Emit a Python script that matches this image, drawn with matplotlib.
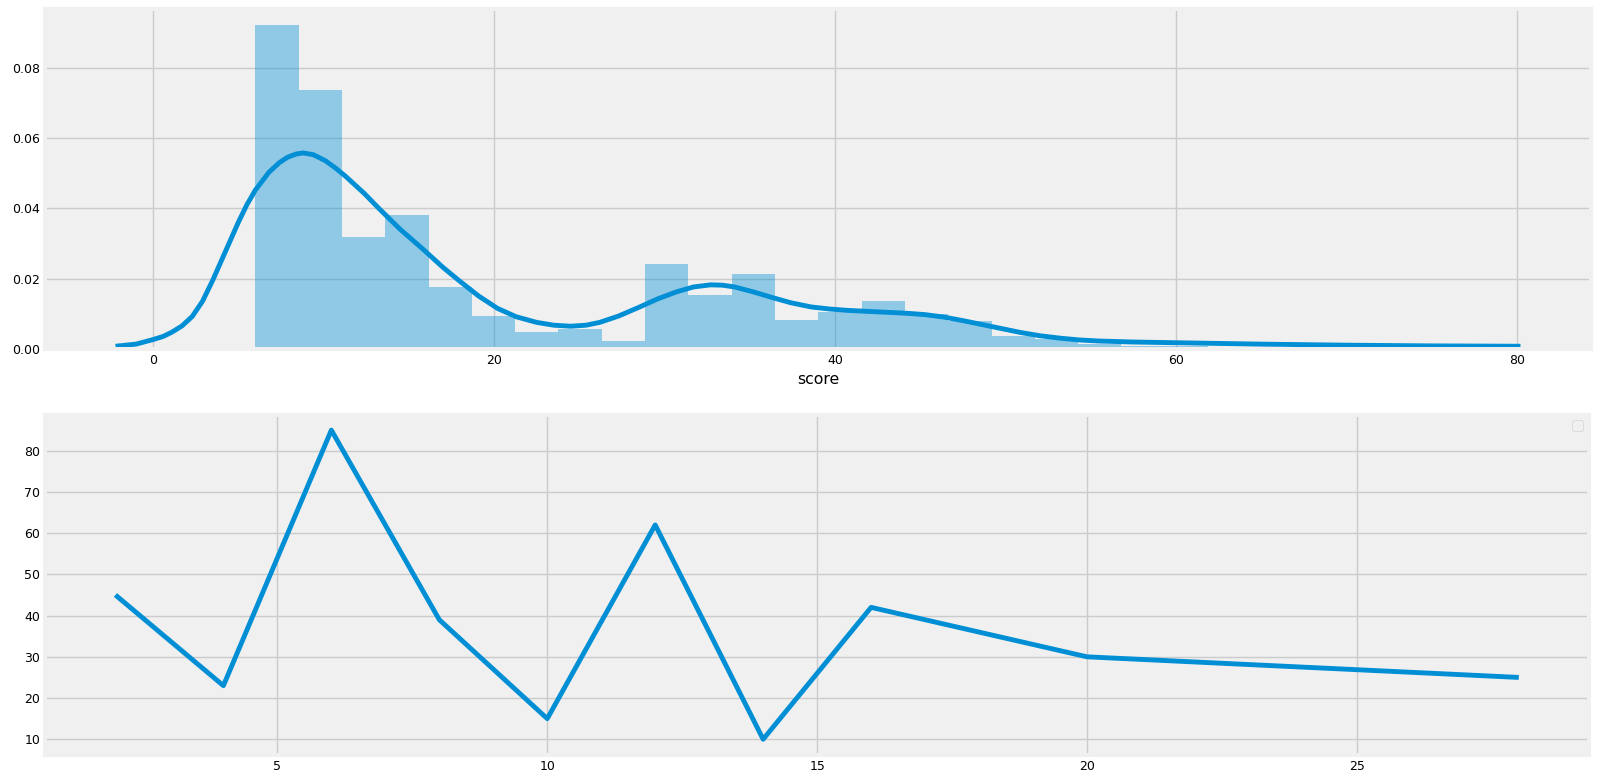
import numpy as np
import matplotlib
matplotlib.use("Agg")
import matplotlib.pyplot as plt

# ---------------- data ----------------
# top panel: histogram of "score" (density) + KDE
bin_edges = [6.0, 8.54, 11.08, 13.62, 16.16, 18.7, 21.24, 23.78, 26.32, 28.86,
             31.4, 33.94, 36.48, 39.02, 41.56, 44.1, 46.64, 49.18, 51.72, 54.26,
             56.8, 59.34, 61.88, 64.42, 66.96, 69.5, 72.04]
bin_density = [0.0923, 0.0736, 0.0319, 0.0382, 0.0175, 0.0093, 0.0049, 0.0057,
               0.0023, 0.0241, 0.0152, 0.0214, 0.0083, 0.0105, 0.0135, 0.0100,
               0.0080, 0.0035, 0.0028, 0.0014, 0.0007, 0.0007, 0.0004, 0.0004,
               0.0000, 0.0004]

kde_x = [-2.2, -1.0, 0.0, 0.6, 1.1, 1.7, 2.3, 2.9, 3.5, 4.0, 4.5, 5.0, 5.5,
         6.0, 6.8, 7.4, 7.9, 8.4, 8.8, 9.4, 10.1, 10.7, 11.3, 12.4, 13.2, 14.5,
         15.8, 17.0, 18.0, 19.1, 20.2, 21.3, 22.5, 23.5, 24.5, 25.4, 26.2, 27.3,
         28.5, 29.6, 30.7, 31.7, 32.7, 33.4, 34.1, 35.2, 36.3, 37.4, 38.6, 39.7,
         40.8, 42.5, 44.2, 45.3, 46.4, 47.5, 48.7, 49.8, 50.9, 52.0, 53.2, 54.3,
         55.4, 57.5, 60.0, 65.0, 70.0, 75.0, 80.2]
kde_y = [0.0007, 0.0013, 0.0026, 0.0035, 0.0047, 0.0065, 0.0092, 0.0135,
         0.0195, 0.0250, 0.0305, 0.0360, 0.0410, 0.0452, 0.0503, 0.0530,
         0.0546, 0.0555, 0.0558, 0.0553, 0.0536, 0.0515, 0.0491, 0.0442,
         0.0402, 0.0340, 0.0285, 0.0232, 0.0192, 0.0150, 0.0115, 0.0091,
         0.0075, 0.0067, 0.0064, 0.0067, 0.0075, 0.0093, 0.0118, 0.0142,
         0.0162, 0.0176, 0.0182, 0.0181, 0.0176, 0.0162, 0.0146, 0.0131,
         0.0119, 0.0113, 0.0109, 0.0105, 0.0101, 0.0097, 0.0090, 0.0080,
         0.0068, 0.0057, 0.0046, 0.0037, 0.0030, 0.0025, 0.0022, 0.0019,
         0.0017, 0.0013, 0.0010, 0.0008, 0.0007]
top_xlabel = "score"

# bottom panel: line
line_x = [2, 4, 6, 8, 10, 12, 14, 16, 20, 28]
line_y = [45, 23, 85, 39, 15, 62, 10, 42, 30, 25]
bottom_yticks = [10, 20, 30, 40, 50, 60, 70, 80]
bottom_xticks = [5, 10, 15, 20, 25]

# ---------------- style ----------------
plt.style.use("fivethirtyeight")
plt.rcParams["font.family"] = ["DejaVu Sans"]
plt.rcParams["figure.facecolor"] = "white"
plt.rcParams["savefig.facecolor"] = "white"
plt.rcParams["axes.linewidth"] = 2.9
plt.rcParams["grid.linewidth"] = 1.0
plt.rcParams["xtick.labelsize"] = 9
plt.rcParams["ytick.labelsize"] = 9
plt.rcParams["axes.labelsize"] = 11.3

BLUE = "#008fd5"
LW = 3.5

fig = plt.figure(figsize=(16, 7.82), dpi=100)
ax1 = fig.add_axes([0.0283, 0.5541, 0.9659, 0.4348])
ax2 = fig.add_axes([0.0283, 0.0349, 0.9648, 0.4348])

# top: histogram + kde
edges = np.array(bin_edges)
ax1.bar(edges[:-1], bin_density, width=np.diff(edges), align="edge",
        color=BLUE, alpha=0.4, linewidth=0, antialiased=False)
ax1.plot(kde_x, kde_y, color=BLUE, lw=LW, solid_capstyle="butt",
         solid_joinstyle="round")
ax1.set_xlabel(top_xlabel, color="black")
ax1.set_xticks([0, 20, 40, 60, 80])
ax1.set_yticks([0.0, 0.02, 0.04, 0.06, 0.08])
ax1.yaxis.set_major_formatter(matplotlib.ticker.FormatStrFormatter("%.2f"))

# bottom: line
ax2.plot(line_x, line_y, color=BLUE, lw=LW, solid_capstyle="butt")
ax2.set_yticks(bottom_yticks)
ax2.set_xticks(bottom_xticks)
ax2.legend(handles=[], labels=[], loc="upper right", fontsize=10,
           borderaxespad=0.4)

for ax in (ax1, ax2):
    ax.set_facecolor("#f0f0f0")
    ax.grid(True, color="#cbcbcb", lw=1.0)
    ax.tick_params(colors="black", labelcolor="black", length=0)
    for s in ax.spines.values():
        s.set_color("#f0f0f0")
        s.set_linewidth(2.9)

fig.savefig("out.png", dpi=100, facecolor="white")
